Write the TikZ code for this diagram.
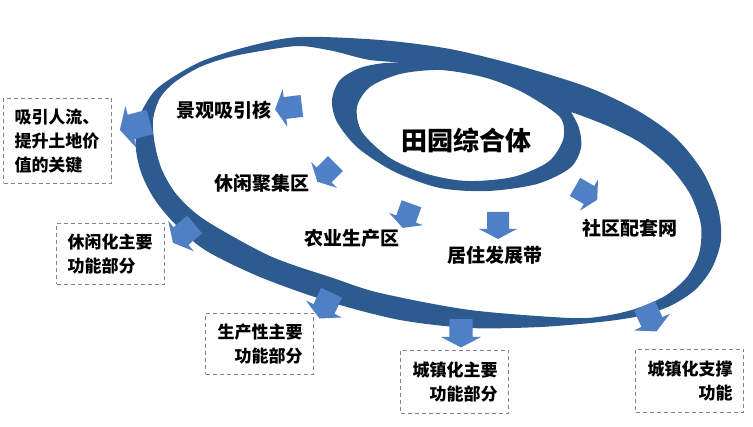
\documentclass[tikz,border=0pt]{standalone}
\usepackage{fontspec}
\setmainfont{Noto Sans CJK SC}
\definecolor{bandblue}{HTML}{2D5B8F}
\definecolor{arrowblue}{HTML}{4F80C6}
\definecolor{boxline}{HTML}{8C7BA0}
\newcommand{\blockarrow}[3]{%
  \begin{scope}[shift={#1}, rotate=#2, scale=#3]
    \fill[arrowblue] (-17,-11) -- (0,-11) -- (0,-19) -- (10,0) -- (0,19) -- (0,11) -- (-17,11) -- cycle;
  \end{scope}}
\tikzset{
  lbl/.style={font=\bfseries\fontsize{19}{22}\selectfont, inner sep=0pt},
  fbox/.style={draw=boxline, dashed, dash pattern=on 4pt off 3pt, line width=1pt,
    font=\bfseries\fontsize{17}{24}\selectfont, inner xsep=11pt, inner ysep=4pt,
    text width=86pt, minimum width=108pt, anchor=north west},
}
\begin{document}
\begin{tikzpicture}[x=1pt,y=-1pt]
\useasboundingbox (0,0) rectangle (753,427);
% spiral band
\fill[bandblue, even odd rule]
  plot[smooth cycle] coordinates {(300,37) (380,40) (450,49) (520,66) (590,88) (640,112) (676,138) (703,172) (718,208) (721,240) (712,268) (695,290) (670,306) (640,316) (600,322) (540,327) (470,328) (400,320) (330,302) (260,277) (205,250) (175,224) (155,200) (142,175) (136,150) (137,125) (145,105) (160,86) (200,62) (250,46)}
  plot[smooth] coordinates {(413,63) (370,60) (333,51) (300,46) (267,50) (230,57) (200,67) (175,82) (160,98) (153,120) (155,145) (162,170) (177,195) (205,220) (270,256) (333,278) (380,293) (470,310) (570,318) (604,316) (635,309) (665,296) (687,277) (699,254) (701,225) (690,194) (669,166) (641,143) (610,127) (585,117) (571,112)}
  -- plot[smooth] coordinates {(571,112) (579,128) (581,148) (570,168) (537,184) (488,191) (440,188) (395,172) (358,148) (337,122) (332,100) (340,80) (360,68) (385,63) (413,63)} -- cycle
  plot[smooth cycle] coordinates {(563,140) (548,162) (513,177) (467,181) (427,174) (390,158) (362,132) (357,107) (370,87) (400,74) (440,70) (483,77) (518,90) (547,107) (562,120)};
% block arrows
\blockarrow{(285,108)}{187}{1}
\blockarrow{(131,127)}{195}{1.15}
\blockarrow{(324,175)}{225}{0.95}
\blockarrow{(406,219)}{250}{0.95}
\blockarrow{(498,229)}{270}{1}
\blockarrow{(589,195)}{-30}{0.95}
\blockarrow{(181,236)}{220}{1.05}
\blockarrow{(324,309)}{245}{1.05}
\blockarrow{(461,337)}{270}{1.05}
\blockarrow{(652,322)}{-65}{1.05}
% labels
\node[lbl] (core) at (466,140) {\fontsize{26}{30}\selectfont 田园综合体};
\node[lbl] (jg) at (224,110) {景观吸引核};
\node[lbl] (xx) at (262,183) {休闲聚集区};
\node[lbl] (ny) at (352,238) {农业生产区};
\node[lbl] (jz) at (495,255) {居住发展带};
\node[lbl] (sq) at (630,228) {社区配套网};
% boxes
\node[fbox, align=left, minimum height=85pt] (b1) at (3,98) {吸引人流、\\提升土地价\\值的关键};
\node[fbox, align=left, minimum height=61pt] (b2) at (56,223) {休闲化主要\\功能部分};
\node[fbox, align=right, minimum height=61pt] (b3) at (205,313) {生产性主要\\功能部分};
\node[fbox, align=right, minimum height=63pt] (b4) at (400,350) {城镇化主要\\功能部分};
\node[fbox, align=right, minimum height=63pt] (b5) at (635,349) {城镇化支撑\\功能};
\end{tikzpicture}
\end{document}
